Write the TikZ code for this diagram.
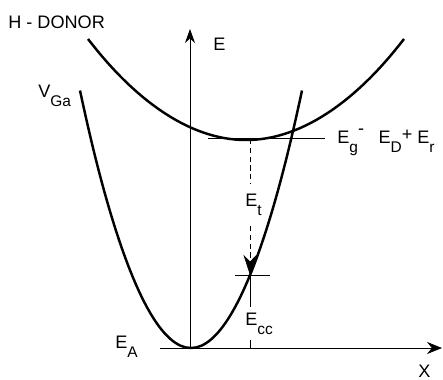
\documentclass[tikz,border=0pt]{standalone}
\usepackage{fontspec}
\setmainfont{Liberation Sans}
\usetikzlibrary{arrows.meta}
\newcommand{\lsub}[1]{\raisebox{-1ex}{\fontsize{8.8}{10}\selectfont #1}}

\begin{document}
\begin{tikzpicture}[>=Stealth,font=\fontsize{10.3}{12}\selectfont,
    band/.style={line width=1.4pt},
    guide/.style={line width=0.45pt},
    lbl/.style={anchor=base west,inner sep=0pt}]
  \useasboundingbox (0,0) rectangle (8.86,7.58);
  \clip (0,0) rectangle (8.86,7.58);
  % axes
  \coordinate (O) at (3.8,0.62);
  \coordinate (Etop) at (3.8,7.0);
  \coordinate (Xleft) at (3.2,0.62);
  \coordinate (Xend) at (8.84,0.62);
  \draw[guide,-{Stealth[length=2.8mm,width=2mm]}] (O) -- (Etop);
  \draw[guide,-{Stealth[length=3mm,width=2.4mm]}] (Xleft) -- (Xend);
  \node[lbl] (elab) at (4.26,6.58) {E};
  \node[lbl] (xlab) at (8.36,0.04) {X};
  % the two bands
  \draw[band] (1.6,5.77) parabola bend (3.82,0.62) (6.04,5.77);
  \draw[band] (1.76,6.8) parabola bend (4.92,4.78) (8.08,6.8);
  \node[lbl] (hdonor) at (0.16,7.02) {H - DONOR};
  \node[lbl] (vga) at (0.76,5.64) {V\lsub{Ga}};
  \node[lbl] (ea) at (2.3,0.62) {E\lsub{A}};
  % level of the donor
  \coordinate (lvlL) at (4.16,4.82);
  \coordinate (lvlR) at (6.5,4.82);
  \draw[guide] (lvlL) -- (lvlR);
  \node[lbl] (lvl) at (6.74,4.72) {E\lsub{g}\raisebox{0.9ex}{-}\hspace{0.8em}E\lsub{D}\raisebox{0.3ex}{+} E\lsub{r}};
  % transition
  \coordinate (ttop) at (5.0,4.8);
  \coordinate (ttip) at (5.0,2.08);
  \node[lbl,inner ysep=2mm] (et) at (4.9,3.46) {E\lsub{t}};
  \draw[guide,densely dashed] (ttop) -- (ttop |- et.north);
  \draw[guide,densely dashed,-{Stealth[length=4mm,width=2.6mm]}] (ttop |- et.south) -- (ttip);
  \coordinate (tickL) at (4.7,2.08);
  \coordinate (tickR) at (5.4,2.08);
  \draw[guide] (tickL) -- (tickR);
  \node[lbl,inner ysep=1mm] (ecc) at (4.9,1.08) {E\lsub{cc}};
  \draw[guide] (ttip) -- (ttip |- ecc.north);
  \draw[guide] (ttip |- ecc.south) -- (ttip |- O);
\end{tikzpicture}
\end{document}
